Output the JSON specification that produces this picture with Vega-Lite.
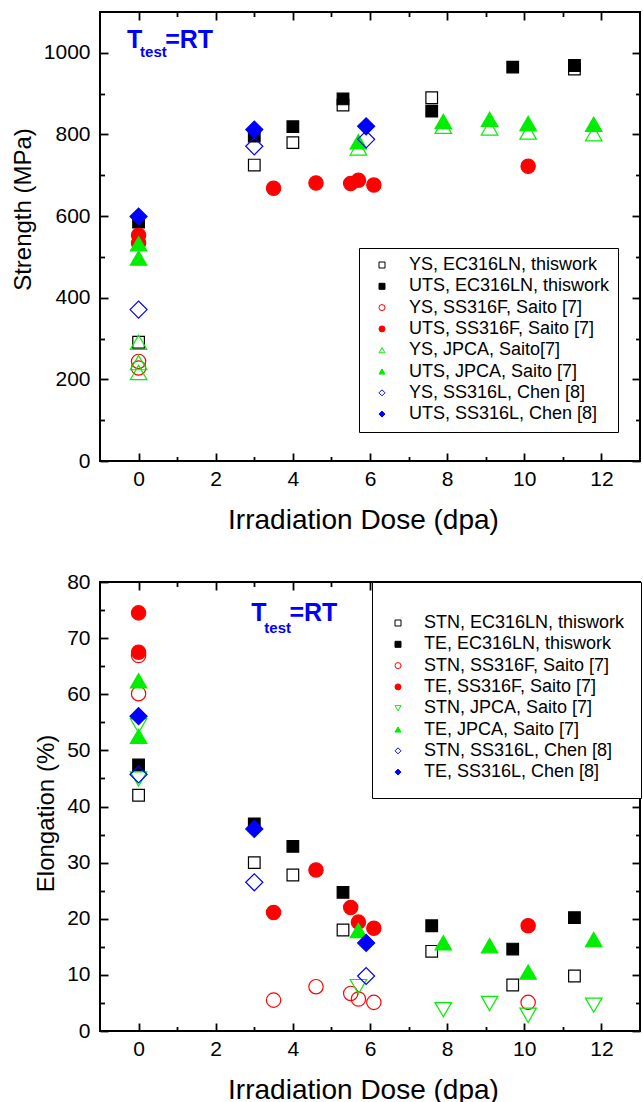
{
  "$schema": "https://vega.github.io/schema/vega-lite/v6.json",
  "padding": {"left": 10, "top": 10, "right": 3, "bottom": 0},
  "background": "white",
  "spacing": 35,
  "resolve": {
    "scale": {"shape": "independent", "stroke": "independent", "fill": "independent", "size": "independent"},
    "legend": {"shape": "independent", "stroke": "independent", "fill": "independent", "size": "independent"}
  },
  "config": {
    "view": {"stroke": "black", "strokeWidth": 2},
    "axis": {
      "domain": false, "grid": false,
      "labelFont": "Liberation Sans", "labelFontSize": 21, "labelColor": "black",
      "titleFont": "Liberation Sans", "titleFontSize": 24, "titleFontWeight": "normal", "titleColor": "black",
      "tickColor": "black", "tickWidth": 1.8, "labelFlush": false, "labelOverlap": false
    },
    "legend": {"labelLimit": 400}
  },
  "datasets": {
    "strength": [
      {"dose": 0, "value": 291, "series": "YS, EC316LN, thiswork"},
      {"dose": 3, "value": 725, "series": "YS, EC316LN, thiswork"},
      {"dose": 4, "value": 780, "series": "YS, EC316LN, thiswork"},
      {"dose": 5.3, "value": 872, "series": "YS, EC316LN, thiswork"},
      {"dose": 7.6, "value": 890, "series": "YS, EC316LN, thiswork"},
      {"dose": 11.3, "value": 960, "series": "YS, EC316LN, thiswork"},
      {"dose": 0, "value": 585, "series": "UTS, EC316LN, thiswork"},
      {"dose": 3, "value": 796, "series": "UTS, EC316LN, thiswork"},
      {"dose": 4, "value": 819, "series": "UTS, EC316LN, thiswork"},
      {"dose": 5.3, "value": 887, "series": "UTS, EC316LN, thiswork"},
      {"dose": 7.6, "value": 857, "series": "UTS, EC316LN, thiswork"},
      {"dose": 9.7, "value": 965, "series": "UTS, EC316LN, thiswork"},
      {"dose": 11.3, "value": 969, "series": "UTS, EC316LN, thiswork"},
      {"dose": 0, "value": 244, "series": "YS, SS316F, Saito [7]"},
      {"dose": 0, "value": 228, "series": "YS, SS316F, Saito [7]"},
      {"dose": 0, "value": 553, "series": "UTS, SS316F, Saito [7]"},
      {"dose": 0, "value": 534, "series": "UTS, SS316F, Saito [7]"},
      {"dose": 3.5, "value": 668, "series": "UTS, SS316F, Saito [7]"},
      {"dose": 4.6, "value": 681, "series": "UTS, SS316F, Saito [7]"},
      {"dose": 5.5, "value": 680, "series": "UTS, SS316F, Saito [7]"},
      {"dose": 5.7, "value": 688, "series": "UTS, SS316F, Saito [7]"},
      {"dose": 6.1, "value": 676, "series": "UTS, SS316F, Saito [7]"},
      {"dose": 10.1, "value": 722, "series": "UTS, SS316F, Saito [7]"},
      {"dose": 0, "value": 291, "series": "YS, JPCA, Saito[7]"},
      {"dose": 0, "value": 241, "series": "YS, JPCA, Saito[7]"},
      {"dose": 0, "value": 217, "series": "YS, JPCA, Saito[7]"},
      {"dose": 5.7, "value": 767, "series": "YS, JPCA, Saito[7]"},
      {"dose": 7.9, "value": 820, "series": "YS, JPCA, Saito[7]"},
      {"dose": 9.1, "value": 816, "series": "YS, JPCA, Saito[7]"},
      {"dose": 10.1, "value": 806, "series": "YS, JPCA, Saito[7]"},
      {"dose": 11.8, "value": 802, "series": "YS, JPCA, Saito[7]"},
      {"dose": 0, "value": 532, "series": "UTS, JPCA, Saito [7]"},
      {"dose": 0, "value": 497, "series": "UTS, JPCA, Saito [7]"},
      {"dose": 5.7, "value": 782, "series": "UTS, JPCA, Saito [7]"},
      {"dose": 7.9, "value": 832, "series": "UTS, JPCA, Saito [7]"},
      {"dose": 9.1, "value": 837, "series": "UTS, JPCA, Saito [7]"},
      {"dose": 10.1, "value": 827, "series": "UTS, JPCA, Saito [7]"},
      {"dose": 11.8, "value": 825, "series": "UTS, JPCA, Saito [7]"},
      {"dose": 0, "value": 371, "series": "YS, SS316L, Chen [8]"},
      {"dose": 3, "value": 771, "series": "YS, SS316L, Chen [8]"},
      {"dose": 5.9, "value": 788, "series": "YS, SS316L, Chen [8]"},
      {"dose": 0, "value": 599, "series": "UTS, SS316L, Chen [8]"},
      {"dose": 3, "value": 812, "series": "UTS, SS316L, Chen [8]"},
      {"dose": 5.9, "value": 820, "series": "UTS, SS316L, Chen [8]"}
    ],
    "elong": [
      {"dose": 0, "value": 42, "series": "STN, EC316LN, thiswork"},
      {"dose": 3, "value": 30, "series": "STN, EC316LN, thiswork"},
      {"dose": 4, "value": 27.8, "series": "STN, EC316LN, thiswork"},
      {"dose": 5.3, "value": 18, "series": "STN, EC316LN, thiswork"},
      {"dose": 7.6, "value": 14.2, "series": "STN, EC316LN, thiswork"},
      {"dose": 9.7, "value": 8.2, "series": "STN, EC316LN, thiswork"},
      {"dose": 11.3, "value": 9.8, "series": "STN, EC316LN, thiswork"},
      {"dose": 0, "value": 47.4, "series": "TE, EC316LN, thiswork"},
      {"dose": 3, "value": 36.9, "series": "TE, EC316LN, thiswork"},
      {"dose": 4, "value": 32.9, "series": "TE, EC316LN, thiswork"},
      {"dose": 5.3, "value": 24.7, "series": "TE, EC316LN, thiswork"},
      {"dose": 7.6, "value": 18.75, "series": "TE, EC316LN, thiswork"},
      {"dose": 9.7, "value": 14.6, "series": "TE, EC316LN, thiswork"},
      {"dose": 11.3, "value": 20.2, "series": "TE, EC316LN, thiswork"},
      {"dose": 0, "value": 66.9, "series": "STN, SS316F, Saito [7]"},
      {"dose": 0, "value": 60.1, "series": "STN, SS316F, Saito [7]"},
      {"dose": 3.5, "value": 5.5, "series": "STN, SS316F, Saito [7]"},
      {"dose": 4.6, "value": 7.9, "series": "STN, SS316F, Saito [7]"},
      {"dose": 5.5, "value": 6.7, "series": "STN, SS316F, Saito [7]"},
      {"dose": 5.7, "value": 5.7, "series": "STN, SS316F, Saito [7]"},
      {"dose": 6.1, "value": 5.1, "series": "STN, SS316F, Saito [7]"},
      {"dose": 10.1, "value": 5.1, "series": "STN, SS316F, Saito [7]"},
      {"dose": 0, "value": 74.5, "series": "TE, SS316F, Saito [7]"},
      {"dose": 0, "value": 67.5, "series": "TE, SS316F, Saito [7]"},
      {"dose": 3.5, "value": 21.1, "series": "TE, SS316F, Saito [7]"},
      {"dose": 4.6, "value": 28.7, "series": "TE, SS316F, Saito [7]"},
      {"dose": 5.5, "value": 22.0, "series": "TE, SS316F, Saito [7]"},
      {"dose": 5.7, "value": 19.4, "series": "TE, SS316F, Saito [7]"},
      {"dose": 6.1, "value": 18.3, "series": "TE, SS316F, Saito [7]"},
      {"dose": 10.1, "value": 18.75, "series": "TE, SS316F, Saito [7]"},
      {"dose": 0, "value": 54.4, "series": "STN, JPCA, Saito [7]"},
      {"dose": 0, "value": 44.9, "series": "STN, JPCA, Saito [7]"},
      {"dose": 5.7, "value": 7.9, "series": "STN, JPCA, Saito [7]"},
      {"dose": 7.9, "value": 3.8, "series": "STN, JPCA, Saito [7]"},
      {"dose": 9.1, "value": 4.9, "series": "STN, JPCA, Saito [7]"},
      {"dose": 10.1, "value": 2.8, "series": "STN, JPCA, Saito [7]"},
      {"dose": 11.8, "value": 4.6, "series": "STN, JPCA, Saito [7]"},
      {"dose": 0, "value": 62.4, "series": "TE, JPCA, Saito [7]"},
      {"dose": 0, "value": 52.5, "series": "TE, JPCA, Saito [7]"},
      {"dose": 5.7, "value": 17.9, "series": "TE, JPCA, Saito [7]"},
      {"dose": 7.9, "value": 15.7, "series": "TE, JPCA, Saito [7]"},
      {"dose": 9.1, "value": 15.2, "series": "TE, JPCA, Saito [7]"},
      {"dose": 10.1, "value": 10.5, "series": "TE, JPCA, Saito [7]"},
      {"dose": 11.8, "value": 16.3, "series": "TE, JPCA, Saito [7]"},
      {"dose": 0, "value": 45.7, "series": "STN, SS316L, Chen [8]"},
      {"dose": 3, "value": 26.5, "series": "STN, SS316L, Chen [8]"},
      {"dose": 5.9, "value": 9.8, "series": "STN, SS316L, Chen [8]"},
      {"dose": 0, "value": 56.1, "series": "TE, SS316L, Chen [8]"},
      {"dose": 3, "value": 36.0, "series": "TE, SS316L, Chen [8]"},
      {"dose": 5.9, "value": 15.7, "series": "TE, SS316L, Chen [8]"}
    ]
  },
  "vconcat": [
    {
      "width": 540,
      "height": 449,
      "resolve": {"axis": {"x": "independent", "y": "independent"}},
      "layer": [
        {
          "data": {"name": "strength"},
          "mark": {"type": "point", "opacity": 1, "strokeWidth": 1.2},
          "encoding": {
            "x": {"field": "dose", "type": "quantitative", "scale": {"domain": [-1, 13], "nice": false, "zero": false},
              "axis": {"orient": "bottom", "title": "Irradiation Dose (dpa)", "titleFontSize": 28, "titleX": 263, "values": [0, 2, 4, 6, 8, 10, 12], "tickSize": -8, "labelPadding": 15, "titlePadding": 17}},
            "y": {"field": "value", "type": "quantitative", "scale": {"domain": [0, 1100], "nice": false},
              "axis": {"orient": "left", "title": "Strength (MPa)", "format": "d", "titleY": 197, "values": [0, 200, 400, 600, 800, 1000], "tickSize": -8, "labelPadding": 18, "titlePadding": 8}},
            "shape": {"field": "series", "type": "nominal",
              "scale": {"domain": ["YS, EC316LN, thiswork", "UTS, EC316LN, thiswork", "YS, SS316F, Saito [7]", "UTS, SS316F, Saito [7]", "YS, JPCA, Saito[7]", "UTS, JPCA, Saito [7]", "YS, SS316L, Chen [8]", "UTS, SS316L, Chen [8]"],
                "range": ["square", "square", "circle", "circle", "triangle-up", "triangle-up", "diamond", "diamond"]},
              "legend": {"title": null, "orient": "none", "legendX": 259, "legendY": 236, "padding": 8, "strokeColor": "black", "fillColor": "white", "labelFont": "Liberation Sans", "labelFontSize": 18, "labelColor": "black", "symbolSize": 36, "symbolStrokeWidth": 1, "rowPadding": 3.3, "labelOffset": 18, "symbolOffset": 6, "labelLimit": 400}},
            "stroke": {"field": "series", "type": "nominal",
              "scale": {"domain": ["YS, EC316LN, thiswork", "UTS, EC316LN, thiswork", "YS, SS316F, Saito [7]", "UTS, SS316F, Saito [7]", "YS, JPCA, Saito[7]", "UTS, JPCA, Saito [7]", "YS, SS316L, Chen [8]", "UTS, SS316L, Chen [8]"],
                "range": ["#000000", "#000000", "#ff0000", "#ff0000", "#00ee00", "#00ee00", "#0000ff", "#0000ff"]},
              "legend": {"title": null, "orient": "none", "legendX": 259, "legendY": 236, "padding": 8, "strokeColor": "black", "fillColor": "white", "labelFont": "Liberation Sans", "labelFontSize": 18, "labelColor": "black", "symbolSize": 36, "symbolStrokeWidth": 1, "rowPadding": 3.3, "labelOffset": 18, "symbolOffset": 6, "labelLimit": 400}},
            "fill": {"field": "series", "type": "nominal",
              "scale": {"domain": ["YS, EC316LN, thiswork", "UTS, EC316LN, thiswork", "YS, SS316F, Saito [7]", "UTS, SS316F, Saito [7]", "YS, JPCA, Saito[7]", "UTS, JPCA, Saito [7]", "YS, SS316L, Chen [8]", "UTS, SS316L, Chen [8]"],
                "range": ["transparent", "#000000", "transparent", "#ff0000", "transparent", "#00ee00", "transparent", "#0000ff"]},
              "legend": {"title": null, "orient": "none", "legendX": 259, "legendY": 236, "padding": 8, "strokeColor": "black", "fillColor": "white", "labelFont": "Liberation Sans", "labelFontSize": 18, "labelColor": "black", "symbolSize": 36, "symbolStrokeWidth": 1, "rowPadding": 3.3, "labelOffset": 18, "symbolOffset": 6, "labelLimit": 400}},
            "size": {"field": "series", "type": "nominal",
              "scale": {"type": "ordinal", "domain": ["UTS, SS316L, Chen [8]", "YS, SS316L, Chen [8]", "UTS, JPCA, Saito [7]", "YS, JPCA, Saito[7]", "UTS, SS316F, Saito [7]", "YS, SS316F, Saito [7]", "UTS, EC316LN, thiswork", "YS, EC316LN, thiswork"],
                "range": [290, 290, 272, 272, 205, 205, 135, 135]},
              "legend": null}
          }
        },
        {
          "data": {"name": "strength"},
          "mark": {"type": "point", "opacity": 0},
          "encoding": {
            "x": {"field": "dose", "type": "quantitative", "scale": {"domain": [-1, 13], "nice": false, "zero": false},
              "axis": {"orient": "bottom", "title": null, "labels": false, "values": [1, 3, 5, 7, 9, 11], "tickSize": -4.5}},
            "y": {"field": "value", "type": "quantitative", "scale": {"domain": [0, 1100], "nice": false},
              "axis": {"orient": "left", "title": null, "labels": false, "values": [100, 300, 500, 700, 900], "tickSize": -4.5}}
          }
        },
        {
          "data": {"name": "strength"},
          "mark": {"type": "point", "opacity": 0},
          "encoding": {
            "x": {"field": "dose", "type": "quantitative", "scale": {"domain": [-1, 13], "nice": false, "zero": false},
              "axis": {"orient": "top", "title": null, "labels": false, "values": [0, 2, 4, 6, 8, 10, 12], "tickSize": -8}},
            "y": {"field": "value", "type": "quantitative", "scale": {"domain": [0, 1100], "nice": false},
              "axis": {"orient": "right", "title": null, "labels": false, "values": [0, 200, 400, 600, 800, 1000], "tickSize": -8}}
          }
        },
        {
          "data": {"name": "strength"},
          "mark": {"type": "point", "opacity": 0},
          "encoding": {
            "x": {"field": "dose", "type": "quantitative", "scale": {"domain": [-1, 13], "nice": false, "zero": false},
              "axis": {"orient": "top", "title": null, "labels": false, "values": [1, 3, 5, 7, 9, 11], "tickSize": -4.5}},
            "y": {"field": "value", "type": "quantitative", "scale": {"domain": [0, 1100], "nice": false},
              "axis": {"orient": "right", "title": null, "labels": false, "values": [100, 300, 500, 700, 900], "tickSize": -4.5}}
          }
        },
        {
          "data": {"values": [{"dose": -0.3, "value": 1013, "t": "T"}, {"dose": 0.69, "value": 1013, "t": "=RT"}]},
          "mark": {"type": "text", "align": "left", "baseline": "alphabetic", "font": "Liberation Sans", "fontWeight": "bold", "fontSize": 25, "color": "#0000ff"},
          "encoding": {
            "x": {"field": "dose", "type": "quantitative", "scale": {"domain": [-1, 13], "nice": false, "zero": false}, "axis": null},
            "y": {"field": "value", "type": "quantitative", "scale": {"domain": [0, 1100], "nice": false}, "axis": null},
            "text": {"field": "t"}
          }
        },
        {
          "data": {"values": [{"dose": 0.04, "value": 989, "t": "test"}]},
          "mark": {"type": "text", "align": "left", "baseline": "alphabetic", "font": "Liberation Sans", "fontWeight": "bold", "fontSize": 15, "color": "#0000ff"},
          "encoding": {
            "x": {"field": "dose", "type": "quantitative", "scale": {"domain": [-1, 13], "nice": false, "zero": false}, "axis": null},
            "y": {"field": "value", "type": "quantitative", "scale": {"domain": [0, 1100], "nice": false}, "axis": null},
            "text": {"field": "t"}
          }
        }
      ]
    },
    {
      "width": 540,
      "height": 449,
      "resolve": {"axis": {"x": "independent", "y": "independent"}},
      "layer": [
        {
          "data": {"name": "elong"},
          "mark": {"type": "point", "opacity": 1, "strokeWidth": 1.2},
          "encoding": {
            "x": {"field": "dose", "type": "quantitative", "scale": {"domain": [-1, 13], "nice": false, "zero": false},
              "axis": {"orient": "bottom", "title": "Irradiation Dose (dpa)", "titleFontSize": 28, "titleX": 263, "values": [0, 2, 4, 6, 8, 10, 12], "tickSize": -8, "labelPadding": 15, "titlePadding": 17}},
            "y": {"field": "value", "type": "quantitative", "scale": {"domain": [0, 80], "nice": false},
              "axis": {"orient": "left", "title": "Elongation (%)", "titleY": 231, "values": [0, 10, 20, 30, 40, 50, 60, 70, 80], "tickSize": -8, "labelPadding": 18, "titlePadding": 8}},
            "shape": {"field": "series", "type": "nominal",
              "scale": {"domain": ["STN, EC316LN, thiswork", "TE, EC316LN, thiswork", "STN, SS316F, Saito [7]", "TE, SS316F, Saito [7]", "STN, JPCA, Saito [7]", "TE, JPCA, Saito [7]", "STN, SS316L, Chen [8]", "TE, SS316L, Chen [8]"],
                "range": ["square", "square", "circle", "circle", "triangle-down", "triangle-up", "diamond", "diamond"]},
              "legend": {"title": " ", "titleFontSize": 13, "titlePadding": 3, "orient": "none", "legendX": 272, "legendY": 0, "padding": 16, "strokeColor": "black", "fillColor": "white", "labelFont": "Liberation Sans", "labelFontSize": 18, "labelColor": "black", "symbolSize": 36, "symbolStrokeWidth": 1, "rowPadding": 3.3, "labelOffset": 17, "symbolOffset": 1, "labelLimit": 400}},
            "stroke": {"field": "series", "type": "nominal",
              "scale": {"domain": ["STN, EC316LN, thiswork", "TE, EC316LN, thiswork", "STN, SS316F, Saito [7]", "TE, SS316F, Saito [7]", "STN, JPCA, Saito [7]", "TE, JPCA, Saito [7]", "STN, SS316L, Chen [8]", "TE, SS316L, Chen [8]"],
                "range": ["#000000", "#000000", "#ff0000", "#ff0000", "#00ee00", "#00ee00", "#0000ff", "#0000ff"]},
              "legend": {"title": " ", "titleFontSize": 13, "titlePadding": 3, "orient": "none", "legendX": 272, "legendY": 0, "padding": 16, "strokeColor": "black", "fillColor": "white", "labelFont": "Liberation Sans", "labelFontSize": 18, "labelColor": "black", "symbolSize": 36, "symbolStrokeWidth": 1, "rowPadding": 3.3, "labelOffset": 17, "symbolOffset": 1, "labelLimit": 400}},
            "fill": {"field": "series", "type": "nominal",
              "scale": {"domain": ["STN, EC316LN, thiswork", "TE, EC316LN, thiswork", "STN, SS316F, Saito [7]", "TE, SS316F, Saito [7]", "STN, JPCA, Saito [7]", "TE, JPCA, Saito [7]", "STN, SS316L, Chen [8]", "TE, SS316L, Chen [8]"],
                "range": ["transparent", "#000000", "transparent", "#ff0000", "transparent", "#00ee00", "transparent", "#0000ff"]},
              "legend": {"title": " ", "titleFontSize": 13, "titlePadding": 3, "orient": "none", "legendX": 272, "legendY": 0, "padding": 16, "strokeColor": "black", "fillColor": "white", "labelFont": "Liberation Sans", "labelFontSize": 18, "labelColor": "black", "symbolSize": 36, "symbolStrokeWidth": 1, "rowPadding": 3.3, "labelOffset": 17, "symbolOffset": 1, "labelLimit": 400}},
            "size": {"field": "series", "type": "nominal",
              "scale": {"type": "ordinal", "domain": ["TE, SS316L, Chen [8]", "STN, SS316L, Chen [8]", "TE, JPCA, Saito [7]", "STN, JPCA, Saito [7]", "TE, SS316F, Saito [7]", "STN, SS316F, Saito [7]", "TE, EC316LN, thiswork", "STN, EC316LN, thiswork"],
                "range": [290, 290, 272, 272, 205, 205, 135, 135]},
              "legend": null}
          }
        },
        {
          "data": {"name": "elong"},
          "mark": {"type": "point", "opacity": 0},
          "encoding": {
            "x": {"field": "dose", "type": "quantitative", "scale": {"domain": [-1, 13], "nice": false, "zero": false},
              "axis": {"orient": "bottom", "title": null, "labels": false, "values": [1, 3, 5, 7, 9, 11], "tickSize": -4.5}},
            "y": {"field": "value", "type": "quantitative", "scale": {"domain": [0, 80], "nice": false},
              "axis": {"orient": "left", "title": null, "labels": false, "values": [5, 15, 25, 35, 45, 55, 65, 75], "tickSize": -4.5}}
          }
        },
        {
          "data": {"name": "elong"},
          "mark": {"type": "point", "opacity": 0},
          "encoding": {
            "x": {"field": "dose", "type": "quantitative", "scale": {"domain": [-1, 13], "nice": false, "zero": false},
              "axis": {"orient": "top", "title": null, "labels": false, "values": [0, 2, 4, 6, 8, 10, 12], "tickSize": -8}},
            "y": {"field": "value", "type": "quantitative", "scale": {"domain": [0, 80], "nice": false},
              "axis": {"orient": "right", "title": null, "labels": false, "values": [0, 10, 20, 30, 40, 50, 60, 70, 80], "tickSize": -8}}
          }
        },
        {
          "data": {"name": "elong"},
          "mark": {"type": "point", "opacity": 0},
          "encoding": {
            "x": {"field": "dose", "type": "quantitative", "scale": {"domain": [-1, 13], "nice": false, "zero": false},
              "axis": {"orient": "top", "title": null, "labels": false, "values": [1, 3, 5, 7, 9, 11], "tickSize": -4.5}},
            "y": {"field": "value", "type": "quantitative", "scale": {"domain": [0, 80], "nice": false},
              "axis": {"orient": "right", "title": null, "labels": false, "values": [5, 15, 25, 35, 45, 55, 65, 75], "tickSize": -4.5}}
          }
        },
        {
          "data": {"values": [{"dose": 2.92, "value": 73, "t": "T"}, {"dose": 3.91, "value": 73, "t": "=RT"}]},
          "mark": {"type": "text", "align": "left", "baseline": "alphabetic", "font": "Liberation Sans", "fontWeight": "bold", "fontSize": 25, "color": "#0000ff"},
          "encoding": {
            "x": {"field": "dose", "type": "quantitative", "scale": {"domain": [-1, 13], "nice": false, "zero": false}, "axis": null},
            "y": {"field": "value", "type": "quantitative", "scale": {"domain": [0, 80], "nice": false}, "axis": null},
            "text": {"field": "t"}
          }
        },
        {
          "data": {"values": [{"dose": 3.26, "value": 70.96, "t": "test"}]},
          "mark": {"type": "text", "align": "left", "baseline": "alphabetic", "font": "Liberation Sans", "fontWeight": "bold", "fontSize": 15, "color": "#0000ff"},
          "encoding": {
            "x": {"field": "dose", "type": "quantitative", "scale": {"domain": [-1, 13], "nice": false, "zero": false}, "axis": null},
            "y": {"field": "value", "type": "quantitative", "scale": {"domain": [0, 80], "nice": false}, "axis": null},
            "text": {"field": "t"}
          }
        }
      ]
    }
  ]
}
